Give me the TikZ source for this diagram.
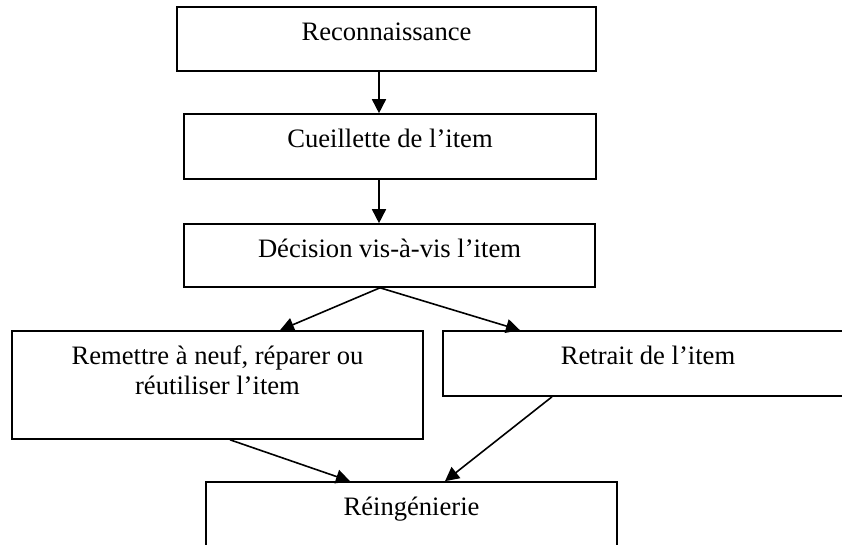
\documentclass[tikz,border=0pt]{standalone}
\usepackage{fontspec}
\setmainfont{Liberation Serif}
\usetikzlibrary{arrows.meta,positioning}
\tikzset{
  etape/.style={draw, line width=0.8pt, inner sep=0pt},
  texte/.style={inner sep=0pt, align=center, font=\fontsize{13.3}{15}\selectfont},
  fleche/.style={-{Triangle[length=7pt,width=7pt]}, line width=0.8pt}
}
\begin{document}
\begin{tikzpicture}[x=0.5pt, y=-0.5pt]
    \useasboundingbox (0,0) rectangle (842,545);
    \clip (0,0) rectangle (842,545);

    \node[etape, minimum width=209.5pt, minimum height=32pt] (rec) at (386.5,39) {};
    \node[etape, minimum width=206pt, minimum height=32.5pt] (cue) at (390,146.5) {};
    \node[etape, minimum width=205.5pt, minimum height=31.5pt] (dec) at (389.5,255.5) {};
    \node[etape, minimum width=205.5pt, minimum height=54pt] (rem) at (217.5,385) {}; % gauche
    \node[etape, minimum width=205pt, minimum height=32.5pt] (ret) at (648,363.5) {}; % droite
    \node[etape, minimum width=205.5pt, minimum height=54pt] (rei) at (411.5,536) {};

    % textes en haut des cases
    \node[texte, below=6.5pt of rec.north] (recT) {\strut Reconnaissance};
    \node[texte, below=6.5pt of cue.north] (cueT) {\strut Cueillette de l’item};
    \node[texte, below=6.5pt of dec.north] (decT) {\strut Décision vis-à-vis l’item};
    \node[texte, below=6.5pt of rem.north] (remT) {\strut Remettre à neuf, réparer ou\\réutiliser l’item};
    \node[texte, below=6.5pt of ret.north] (retT) {\strut Retrait de l’item};
    \node[texte, below=6.5pt of rei.north] (reiT) {\strut Réingénierie};

    \draw[fleche] ([shift={(-7.5,0)}]rec.south) -- ([shift={(-11,0)}]cue.north);
    \draw[fleche] ([shift={(-11,0)}]cue.south) -- ([shift={(-10.5,0)}]dec.north);
    \draw[fleche] ([shift={(-9.5,0)}]dec.south) -- ([shift={(62.5,0)}]rem.north);
    \draw[fleche] ([shift={(-9.5,0)}]dec.south) -- ([shift={(-128,0)}]ret.north);
    \draw[fleche] ([shift={(12.5,0)}]rem.south) -- ([shift={(-61.5,0)}]rei.north);
    \draw[fleche] ([shift={(-96,0)}]ret.south) -- ([shift={(33.5,0)}]rei.north);
\end{tikzpicture}
\end{document}
